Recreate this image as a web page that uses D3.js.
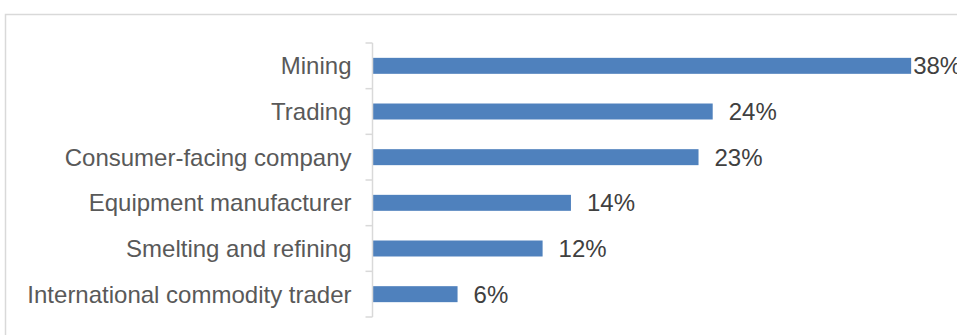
<!DOCTYPE html>
<html>
<head>
<meta charset="utf-8">
<script src="https://cdn.jsdelivr.net/npm/d3@7"></script>
<style>
  html, body { margin: 0; padding: 0; background: #fff; }
  svg { display: block; }
</style>
</head>
<body>
<script>
// Share of respondents by company type
const categories = [
  "Mining",
  "Trading",
  "Consumer-facing company",
  "Equipment manufacturer",
  "Smelting and refining",
  "International commodity trader"
];
const values = [38, 24, 23, 14, 12, 6];
const valueLabels = ["38%", "24%", "23%", "14%", "12%", "6%"];

const W = 957, H = 335;
const svg = d3.select("body").append("svg")
  .attr("width", W).attr("height", H);

// chart area frame
svg.append("rect")
  .attr("x", 5.5).attr("y", 14.5)
  .attr("width", 1000).attr("height", 400)
  .attr("fill", "#fff")
  .attr("stroke", "#d9d9d9").attr("stroke-width", 1.5);

const plotLeft = 372.5, plotTop = 43, plotBottom = 317;
const x = d3.scaleLinear().domain([0, 40]).range([plotLeft, plotLeft + 567]);
const y = d3.scaleBand().domain(categories).range([plotTop, plotBottom]).paddingInner(0.65).paddingOuter(0.325);
const yBand = d3.scaleBand().domain(categories).range([plotTop, plotBottom]);

const font = "Liberation Sans, Arial, sans-serif";

// bars
svg.append("g").selectAll("rect")
  .data(categories)
  .join("rect")
  .attr("x", x(0))
  .attr("y", d => y(d))
  .attr("width", (d, i) => x(values[i]) - x(0))
  .attr("height", y.bandwidth())
  .attr("fill", "#4f81bd");

// category axis with ticks at band boundaries
const axis = svg.append("g");
axis.append("line")
  .attr("x1", plotLeft).attr("x2", plotLeft)
  .attr("y1", plotTop).attr("y2", plotBottom)
  .attr("stroke", "#d9d9d9").attr("stroke-width", 1.5);
const boundaries = categories.map(c => yBand(c)).concat([plotBottom]);
axis.selectAll("line.tick")
  .data(boundaries)
  .join("line")
  .attr("class", "tick")
  .attr("x1", plotLeft - 7).attr("x2", plotLeft)
  .attr("y1", d => d).attr("y2", d => d)
  .attr("stroke", "#d9d9d9").attr("stroke-width", 1.5);

axis.selectAll("text")
  .data(categories)
  .join("text")
  .attr("x", plotLeft - 21)
  .attr("y", d => yBand(d) + yBand.bandwidth() / 2)
  .attr("dy", "0.35em")
  .attr("text-anchor", "end")
  .attr("font-family", font)
  .attr("font-size", 24)
  .attr("fill", "#595959")
  .text(d => d);

// value labels
svg.append("g").selectAll("text")
  .data(categories)
  .join("text")
  .attr("x", (d, i) => x(values[i]) + (i === 0 ? 2 : 16))
  .attr("y", d => yBand(d) + yBand.bandwidth() / 2)
  .attr("dy", "0.35em")
  .attr("font-family", font)
  .attr("font-size", 24)
  .attr("fill", "#404040")
  .text((d, i) => valueLabels[i]);
</script>
</body>
</html>
